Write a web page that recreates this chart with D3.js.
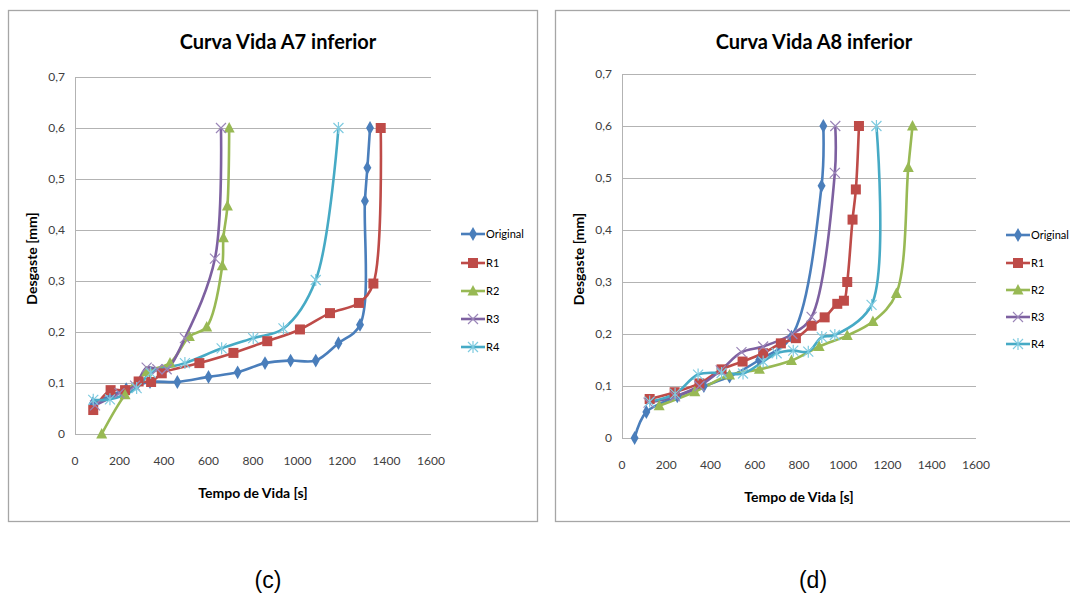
<!DOCTYPE html>
<html>
<head>
<meta charset="utf-8">
<script src="https://cdn.jsdelivr.net/npm/d3@7"></script>
<style>
  body { margin: 0; background: #fff; }
  svg { display: block; }
  .nar { font-family: Lato, "Open Sans", sans-serif; }
</style>
</head>
<body>
<svg id="chart" width="1070" height="596"></svg>
<script>
// ---- data: [tempo (s), desgaste (mm)] ----
const seriesNames = ["Original", "R1", "R2", "R3", "R4"];
const xTicks = [0, 200, 400, 600, 800, 1000, 1200, 1400, 1600];
const yTicks = [0, 0.1, 0.2, 0.3, 0.4, 0.5, 0.6, 0.7];

const a7Original = [[80,0.06],[230,0.088],[337,0.102],[460,0.102],[600,0.112],[731,0.121],[854,0.139],[969,0.144],[1082,0.144],[1184,0.178],[1281,0.214],[1303,0.457],[1314,0.522],[1326,0.6]];
const a7R1 = [[82,0.047],[160,0.086],[225,0.086],[286,0.103],[342,0.102],[390,0.119],[559,0.139],[712,0.159],[864,0.182],[1011,0.205],[1146,0.237],[1276,0.257],[1341,0.295],[1374,0.6]];
const a7R2 = [[120,0],[225,0.077],[322,0.122],[427,0.139],[514,0.191],[592,0.21],[662,0.33],[667,0.385],[685,0.447],[693,0.6]];
const a7R3 = [[90,0.056],[200,0.08],[270,0.095],[322,0.13],[370,0.127],[412,0.127],[494,0.188],[629,0.344],[656,0.6]];
const a7R4 = [[82,0.067],[157,0.068],[277,0.09],[340,0.12],[494,0.139],[659,0.168],[801,0.188],[937,0.207],[1082,0.302],[1184,0.6]];

const a8Original = [[57,0],[110,0.05],[250,0.08],[370,0.1],[486,0.118],[620,0.15],[766,0.195],[902,0.485],[910,0.6]];
const a8R1 = [[125,0.075],[238,0.088],[350,0.105],[450,0.132],[545,0.147],[638,0.163],[718,0.182],[786,0.192],[857,0.216],[916,0.232],[973,0.258],[1003,0.264],[1018,0.3],[1042,0.42],[1057,0.478],[1071,0.6]];
const a8R2 = [[168,0.062],[329,0.089],[486,0.121],[621,0.132],[766,0.149],[891,0.176],[1018,0.197],[1134,0.224],[1240,0.278],[1294,0.52],[1313,0.6]];
const a8R3 = [[120,0.068],[240,0.08],[350,0.1],[446,0.13],[540,0.165],[638,0.176],[770,0.2],[857,0.233],[962,0.51],[964,0.6]];
const a8R4 = [[125,0.07],[240,0.085],[344,0.122],[450,0.125],[547,0.124],[638,0.147],[699,0.163],[774,0.168],[842,0.166],[903,0.194],[962,0.198],[1128,0.256],[1150,0.6]];

const colors = ["#4a7ebb", "#be4b48", "#98b954", "#7d60a0", "#46aac5"];
const markerColors = ["#4a7ebb", "#be4b48", "#98b954", "#9b86b8", "#7fcbe0"];

const svg = d3.select("#chart");

function marker(sel, i) {
  const c = markerColors[i];
  if (i === 0) {
    sel.append("path").attr("d", d3.symbol(d3.symbolDiamond, 55)()).attr("fill", c);
  } else if (i === 1) {
    sel.append("rect").attr("x", -5).attr("y", -5).attr("width", 10).attr("height", 10).attr("fill", c);
  } else if (i === 2) {
    sel.append("path").attr("d", "M0,-6L5.5,4.5L-5.5,4.5Z").attr("fill", c);
  } else if (i === 3) {
    sel.append("path").attr("d", "M-5,-5L5,5M-5,5L5,-5").attr("stroke", c).attr("stroke-width", 1.2);
  } else {
    sel.append("path").attr("d", "M-5,-5L5,5M-5,5L5,-5M0,-6L0,6").attr("stroke", c).attr("stroke-width", 1.2);
  }
}

function drawChart(cfg) {
  const g = svg.append("g");

  // panel border
  g.append("rect")
    .attr("x", cfg.box[0] + 0.5).attr("y", cfg.box[1] + 0.5)
    .attr("width", cfg.box[2]).attr("height", cfg.box[3])
    .attr("fill", "#fff").attr("stroke", "#a6a6a6").attr("stroke-width", 1.3);

  const x = d3.scaleLinear().domain([0, 1600]).range([cfg.left, cfg.right]);
  const y = d3.scaleLinear().domain([0, 0.7]).range([cfg.bottom, cfg.top]);

  // grid
  g.append("g").selectAll("line").data(yTicks).join("line")
    .attr("x1", cfg.left).attr("x2", cfg.right)
    .attr("y1", d => Math.round(y(d)) + 0.5).attr("y2", d => Math.round(y(d)) + 0.5)
    .attr("stroke", "#b3b3b3").attr("stroke-width", 1);
  g.append("line")
    .attr("x1", cfg.left + 0.5).attr("x2", cfg.left + 0.5)
    .attr("y1", cfg.top).attr("y2", cfg.bottom)
    .attr("stroke", "#b3b3b3");

  // tick labels
  g.append("g").selectAll("text").data(yTicks).join("text")
    .attr("class", "nar")
    .attr("x", cfg.left - 10).attr("y", d => y(d) + 4)
    .attr("text-anchor", "end").attr("font-size", 12).attr("fill", "#404040")
    .text(d => d3.format(".1f")(d).replace(".", ",").replace(/^0,0$/, "0"));
  g.append("g").selectAll("text").data(xTicks).join("text")
    .attr("class", "nar")
    .attr("x", d => x(d)).attr("y", cfg.bottom + 31)
    .attr("text-anchor", "middle").attr("font-size", 12).attr("fill", "#404040")
    .text(d => d);

  // titles
  g.append("text").attr("class", "nar")
    .attr("x", cfg.titleX).attr("y", 49)
    .attr("text-anchor", "middle").attr("font-size", 20).attr("font-weight", "bold")
    .attr("fill", "#000").text(cfg.title);
  g.append("text").attr("class", "nar")
    .attr("x", (cfg.left + cfg.right) / 2).attr("y", cfg.bottom + 64)
    .attr("text-anchor", "middle").attr("font-size", 14).attr("font-weight", "bold")
    .text("Tempo de Vida [s]");
  g.append("text").attr("class", "nar")
    .attr("transform", `translate(${cfg.yTitleX},${(cfg.top + cfg.bottom) / 2 + 3}) rotate(-90)`)
    .attr("text-anchor", "middle").attr("font-size", 14).attr("font-weight", "bold")
    .text("Desgaste [mm]");

  // series (smoothed like Excel's scatter lines)
  const line = d3.line()
    .x(d => x(d[0])).y(d => y(d[1]))
    .curve(d3.curveCatmullRom.alpha(0.5));

  cfg.series.forEach((s, i) => {
    g.append("path").datum(s)
      .attr("d", line)
      .attr("fill", "none")
      .attr("stroke", colors[i])
      .attr("stroke-width", 2.6)
      .attr("stroke-linejoin", "round");
  });
  cfg.series.forEach((s, i) => {
    g.append("g").selectAll("g").data(s).join("g")
      .attr("transform", d => `translate(${x(d[0])},${y(d[1])})`)
      .each(function () { marker(d3.select(this), i); });
  });

  // legend
  seriesNames.forEach((name, i) => {
    const ly = cfg.legendY[i];
    const lg = g.append("g");
    lg.append("line")
      .attr("x1", cfg.legendX).attr("x2", cfg.legendX + 24)
      .attr("y1", ly).attr("y2", ly)
      .attr("stroke", colors[i]).attr("stroke-width", 2.6);
    marker(lg.append("g").attr("transform", `translate(${cfg.legendX + 12},${ly})`), i);
    lg.append("text").attr("class", "nar")
      .attr("x", cfg.legendX + 25).attr("y", ly + 4)
      .attr("font-size", 11).attr("fill", "#000")
      .text(name);
  });
}

drawChart({
  box: [8, 10, 529, 511],
  left: 75, right: 431, top: 77, bottom: 434,
  title: "Curva Vida A7 inferior", titleX: 278, yTitleX: 37,
  legendX: 461, legendY: [234, 263, 291, 319, 347],
  series: [a7Original, a7R1, a7R2, a7R3, a7R4]
});

drawChart({
  box: [555, 10, 530, 511],
  left: 622, right: 976, top: 74, bottom: 438,
  title: "Curva Vida A8 inferior", titleX: 814, yTitleX: 584,
  legendX: 1006, legendY: [235, 263, 290, 317, 344],
  series: [a8Original, a8R1, a8R2, a8R3, a8R4]
});

// sub-figure captions
svg.append("text").attr("x", 268).attr("y", 588)
  .attr("text-anchor", "middle").attr("font-family", "Liberation Sans, Arial, sans-serif")
  .attr("font-size", 23).text("(c)");
svg.append("text").attr("x", 813).attr("y", 588)
  .attr("text-anchor", "middle").attr("font-family", "Liberation Sans, Arial, sans-serif")
  .attr("font-size", 23).text("(d)");
</script>
</body>
</html>
